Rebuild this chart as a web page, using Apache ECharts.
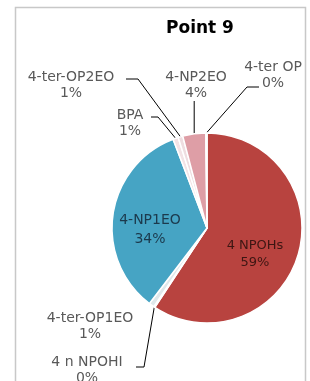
<!DOCTYPE html>
<html>
<head>
<meta charset="utf-8">
<script src="https://cdn.jsdelivr.net/npm/echarts@6/dist/echarts.min.js"></script>
<style>
  html, body { margin: 0; padding: 0; background: #fff; }
  #Pie { width: 310px; height: 381px; }
</style>
</head>
<body>
<div id="Pie"></div>
<script>
  // 数据（按照饼图顺时针顺序，从12点开始）
  var names = ["4 NPOHs", "4 n NPOHI", "4-ter-OP1EO", "4-NP1EO", "BPA", "4-ter-OP2EO", "4-NP2EO", "4-ter OP"];
  var values = [59.2, 0.2, 0.9, 33.8, 0.9, 0.8, 3.9, 0.2];
  var colors = ["#b8433f", "#e3e3e3", "#dfe8eb", "#46a4c4", "#f3e3e6", "#eedde0", "#de9ea6", "#c0504d"];

  var chartDom = document.getElementById("Pie");
  var myChart = echarts.init(chartDom);

  // 标签位置（像素）：[x, y]，以及引线的拐点
  var labelPos = [
    [255, 254], [87, 370], [90, 326], [150, 230],
    [130, 123], [71, 85], [196, 85], [273, 75]
  ];
  var linePts = {
    1: [[144, 367], [136, 367]],
    4: [[158, 117], [151, 117]],
    5: [[138, 79], [126, 79]],
    7: [[247, 87], [259, 87]]
  };

  var pieData = names.map(function (name, i) {
    var inside = i === 0 || i === 3;
    var lbl = { position: "outside", color: "#595959" };
    if (i === 0) lbl = { position: "inside", color: "#3d1613", fontSize: 13, lineHeight: 17 };
    if (i === 3) lbl = { position: "inside", color: "#1c3a4d", lineHeight: 19 };
    return {
      name: name,
      value: values[i],
      itemStyle: { color: colors[i] },
      label: lbl,
      labelLine: { show: !inside && i !== 2 }
    };
  });

  var option = {
    animation: false,
    title: {
      text: "Point 9",
      left: 161,
      top: 15,
      textStyle: { fontFamily: "DejaVu Sans", fontSize: 17, fontWeight: "bold", color: "#000" }
    },
    graphic: [{
      type: "rect",
      shape: { x: 15.5, y: 7.5, width: 290, height: 400 },
      style: { fill: null, stroke: "#c8c8c8", lineWidth: 1.5 },
      silent: true
    }],
    series: [{
      type: "pie",
      center: [207, 228],
      radius: 95,
      startAngle: 90,
      clockwise: true,
      avoidLabelOverlap: false,
      itemStyle: { borderColor: "#fff", borderWidth: 1.5 },
      label: {
        fontFamily: "DejaVu Sans",
        fontSize: 14,
        lineHeight: 16,
        align: "center",
        formatter: function (p) {
          return p.name + "\n" + Math.round(p.value) + "%";
        }
      },
      labelLine: {
        lineStyle: { color: "#000", width: 1 }
      },
      labelLayout: function (params) {
        var i = params.dataIndex;
        var res = { x: labelPos[i][0], y: labelPos[i][1], align: "center", verticalAlign: "middle" };
        var pts = params.labelLinePoints;
        if (pts) {
          var p0 = pts[0];
          if (linePts[i]) {
            res.labelLinePoints = [p0, linePts[i][0], linePts[i][1]];
          } else if (i === 6) {
            res.labelLinePoints = [p0, [p0[0], 101], [p0[0], 101]];
          }
        }
        return res;
      },
      data: pieData
    }]
  };

  option && myChart.setOption(option);
</script>
</body>
</html>
